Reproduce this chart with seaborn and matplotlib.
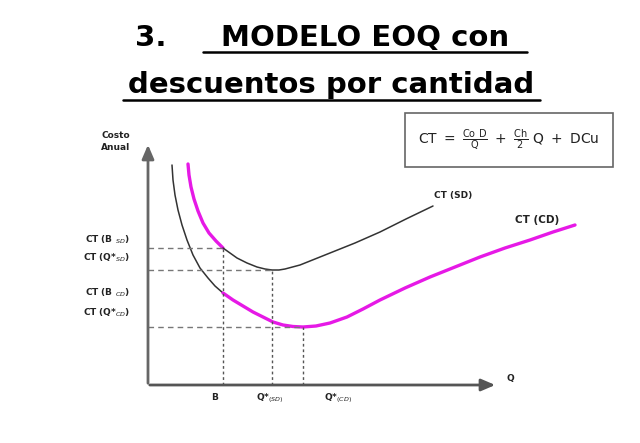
import matplotlib
matplotlib.use("Agg")
import matplotlib.pyplot as plt
import seaborn as sns
from matplotlib.patches import Rectangle

sns.set_theme(style="white")
plt.rcParams['font.family'] = ['DejaVu Sans']

# ---- data (chart units: Q to the right, annual cost upwards) ----
sd_pre_q = [40, 41, 43, 46, 50, 55, 61, 68, 75]
sd_pre_c = [221, 210, 198, 186, 174, 162, 152, 144, 137]
sd_q = [75, 82, 89, 99, 109, 117, 124, 131, 137, 152, 167, 182, 207, 232, 258, 285]
sd_c = [137, 132, 127, 122, 118, 116, 115, 115, 116, 120, 126, 132, 142, 153, 166, 179]
cd_pre_q = [24, 25, 27, 30, 34, 39, 45, 52, 60, 67, 75]
cd_pre_c = [220, 205, 190, 175, 160, 145, 130, 117, 107, 99, 92]
cd_q = [75, 85, 95, 105, 115, 125, 135, 145, 155, 168, 182, 199, 215, 232, 257, 282, 307, 332, 357, 382, 405, 427]
cd_c = [92, 85, 79, 73, 68, 63, 60, 58.5, 58, 59, 62, 68, 76, 85, 97, 108, 118, 128, 137, 145, 153, 160]

B = 75
Q_SD = 124
Q_CD = 155
CT_B_SD = 137
CT_Q_SD = 115
CT_Q_CD = 58

y_labels = ["CT (B $_{SD}$)", "CT (Q*$_{SD}$)", "CT (B $_{CD}$)", "CT (Q*$_{CD}$)"]
y_label_pos = [145, 127, 92, 72]
x_labels = ["B", "Q*$_{(SD)}$", "Q*$_{(CD)}$"]
x_label_pos = [67, 122, 190]

fig = plt.figure(figsize=(6.4, 4.43), dpi=100)
ax = fig.add_axes([0, 0, 1, 1])
ax.set_xlim(-148, 492)
ax.set_ylim(-58, 385)
ax.axis("off")

black = "#333333"
mag = "#e619e6"

def line(q, c, color, lw):
    sns.lineplot(x=q, y=c, ax=ax, color=color, lw=lw, sort=False, estimator=None)

line(sd_pre_q, sd_pre_c, mag, 2.4)
line(sd_q, sd_c, black, 1.1)
line(cd_pre_q, cd_pre_c, black, 1.1)
line(cd_q, cd_c, mag, 2.4)

# guide lines
dash = dict(color="#777777", lw=1.0, ls=(0, (4, 3)))
ax.plot([0, B], [CT_B_SD, CT_B_SD], **dash)
ax.plot([0, Q_SD], [CT_Q_SD, CT_Q_SD], **dash)
ax.plot([0, Q_CD], [CT_Q_CD, CT_Q_CD], **dash)
dot = dict(color="#555555", lw=1.0, ls=(0, (2, 2)))
ax.plot([B, B], [0, CT_B_SD], **dot)
ax.plot([Q_SD, Q_SD], [0, CT_Q_SD], **dot)
ax.plot([Q_CD, Q_CD], [0, CT_Q_CD], **dot)

# axes with arrows
ax.annotate("", xy=(0, 243), xytext=(0, -1),
            arrowprops=dict(arrowstyle="-|>,head_length=0.7,head_width=0.3", color="#666666", lw=2))
ax.annotate("", xy=(350, 0), xytext=(-1, 0),
            arrowprops=dict(arrowstyle="-|>,head_length=0.7,head_width=0.3", color="#555555", lw=2))

tf = dict(fontsize=6.5, fontweight="bold", color="#222222")
ax.text(-18, 250, "Costo", ha="right", va="center", **tf)
ax.text(-18, 237, "Anual", ha="right", va="center", **tf)
for lab, y in zip(y_labels, y_label_pos):
    ax.text(-18, y, lab, ha="right", va="center", **tf)
for lab, x in zip(x_labels, x_label_pos):
    ax.text(x, -13, lab, ha="center", va="center", **tf)
ax.text(362, 6, "Q", ha="center", va="center", **tf)
ax.text(305, 190, "CT (SD)", ha="center", va="center", **tf)
ax.text(389, 165, "CT (CD)", ha="center", va="center", fontsize=7.5, fontweight="bold", color="#222222")

# formula box
ax.add_patch(Rectangle((257, 218), 208, 54, fill=False, ec="#666666", lw=1.2))
ax.text(361, 245, r"$\mathrm{CT\ =\ \frac{Co\ D}{Q}\ +\ \frac{Ch}{2}\ Q\ +\ DCu}$",
        ha="center", va="center", fontsize=10, color="#222222")

# title
ax.text(-13, 347, "3.", ha="left", va="center", fontsize=21, fontweight="bold", color="black")
ax.text(217, 347, "MODELO EOQ con", ha="center", va="center", fontsize=21,
        fontweight="bold", color="black")
ax.text(183, 300, "descuentos por cantidad", ha="center", va="center", fontsize=21,
        fontweight="bold", color="black")
ax.plot([55, 379], [333, 333], color="black", lw=1.8)
ax.plot([-25, 392], [285, 285], color="black", lw=1.8)

fig.savefig("out.png", dpi=100)
